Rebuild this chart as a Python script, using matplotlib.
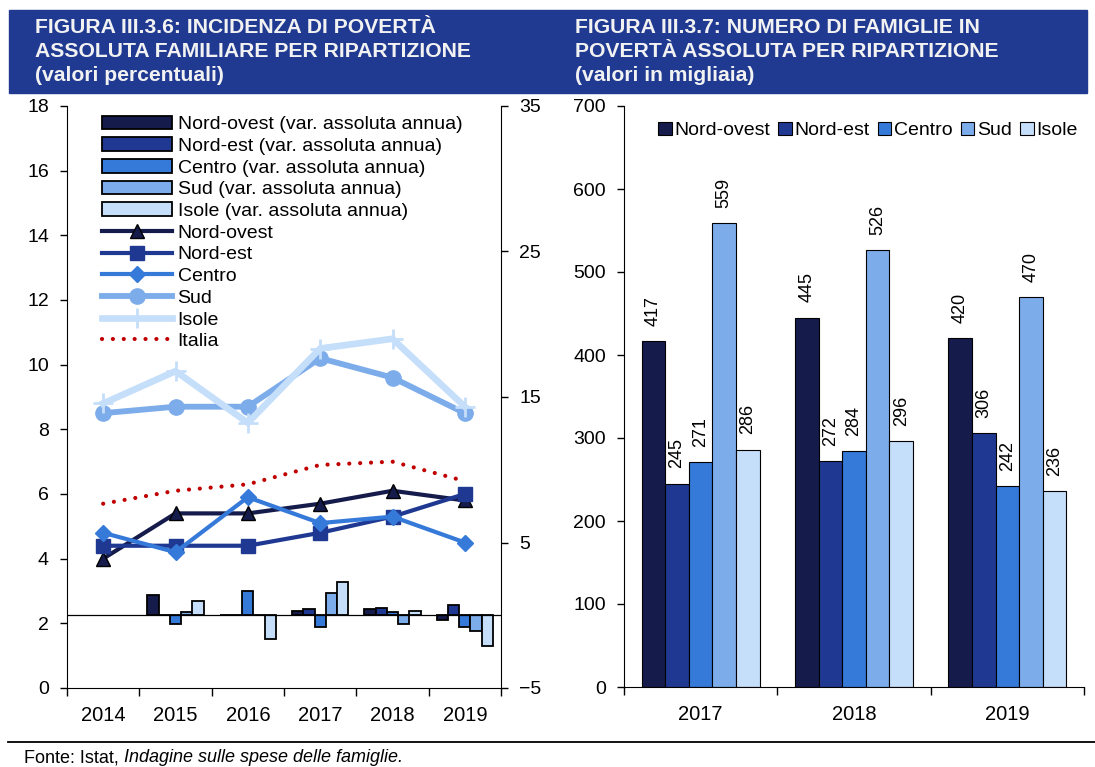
import matplotlib.pyplot as plt
from matplotlib.patches import Patch, Rectangle
from matplotlib.lines import Line2D
import numpy as np

plt.rcParams['font.family'] = ['Liberation Sans', 'DejaVu Sans']

# --- data: figura III.3.6 (incidenza %, linee) ---
years = ['2014', '2015', '2016', '2017', '2018', '2019']
nord_ovest = [4.0, 5.4, 5.4, 5.7, 6.1, 5.8]
nord_est = [4.4, 4.4, 4.4, 4.8, 5.3, 6.0]
centro = [4.8, 4.2, 5.9, 5.1, 5.3, 4.5]
sud = [8.5, 8.7, 8.7, 10.2, 9.6, 8.5]
isole = [8.8, 9.8, 8.2, 10.5, 10.8, 8.7]
italia = [5.7, 6.1, 6.3, 6.9, 7.0, 6.4]

# variazione assoluta annua (asse destro), nessun dato per il 2014
var_nord_ovest = [np.nan, 1.4, 0.0, 0.3, 0.4, -0.3]
var_nord_est = [np.nan, 0.0, 0.0, 0.4, 0.5, 0.7]
var_centro = [np.nan, -0.6, 1.7, -0.8, 0.2, -0.8]
var_sud = [np.nan, 0.2, 0.0, 1.5, -0.6, -1.1]
var_isole = [np.nan, 1.0, -1.6, 2.3, 0.3, -2.1]

# --- data: figura III.3.7 (migliaia di famiglie) ---
years_b = ['2017', '2018', '2019']
fam_nord_ovest = [417, 445, 420]
fam_nord_est = [245, 272, 306]
fam_centro = [271, 284, 242]
fam_sud = [559, 526, 470]
fam_isole = [286, 296, 236]

areas = ['Nord-ovest', 'Nord-est', 'Centro', 'Sud', 'Isole']
colors = ['#151C4C', '#1F3993', '#3579D9', '#7DACEA', '#C5DEFA']
header_blue = '#203A92'

W, H = 1095, 767
fig = plt.figure(figsize=(W / 100, H / 100), dpi=100)


def box(x0, y0, x1, y1):
    # pixel box (top-left origin) -> figure fraction
    return [x0 / W, 1 - y1 / H, (x1 - x0) / W, (y1 - y0) / H]


# headers
fig.patches.append(Rectangle((9 / W, 1 - 93 / H), (1087 - 9) / W, 83 / H,
                             transform=fig.transFigure, color=header_blue, zorder=0))
hfont = dict(color='#F2F2F2', fontsize=15.2, fontweight='bold', va='top', ha='left',
             linespacing=1.34)
fig.text(35 / W, 1 - 18 / H, 'FIGURA III.3.6: INCIDENZA DI POVERTÀ\nASSOLUTA FAMILIARE PER RIPARTIZIONE\n(valori percentuali)', **hfont)
fig.text(575 / W, 1 - 18 / H, 'FIGURA III.3.7: NUMERO DI FAMIGLIE IN\nPOVERTÀ ASSOLUTA PER RIPARTIZIONE\n(valori in migliaia)', **hfont)

# ---------------- left chart ----------------
ax = fig.add_axes(box(67, 106, 501, 688))
ax2 = ax.twinx()
x = np.arange(len(years))
w = 0.156
variations = [var_nord_ovest, var_nord_est, var_centro, var_sud, var_isole]
for i, (vals, c) in enumerate(zip(variations, colors)):
    ax2.bar(x + (i - 2) * w, vals, w, color=c, edgecolor='black', linewidth=1.3)
ax2.axhline(0, color='black', lw=0.9)
ax2.set_ylim(-5, 35)
ax2.set_yticks([-5, 5, 15, 25, 35])

ax.set_zorder(ax2.get_zorder() + 1)
ax.patch.set_visible(False)
ax.plot(x, nord_ovest, color=colors[0], lw=3, marker='^', ms=10, mfc=colors[0], mec='black', mew=1)
ax.plot(x, nord_est, color=colors[1], lw=3, marker='s', ms=10, mfc=colors[1], mec=colors[1])
ax.plot(x, centro, color=colors[2], lw=3, marker='D', ms=8, mfc=colors[2], mec=colors[2])
ax.plot(x, sud, color=colors[3], lw=4.2, marker='o', ms=11, mfc=colors[3], mec=colors[3])
ax.plot(x, isole, color=colors[4], lw=4.8, marker='+', ms=14, mew=2, mec=colors[4])
ax.plot(x, italia, color='#C00000', lw=3, linestyle=(0, (0.01, 2.6)), dash_capstyle='round')
ax.set_ylim(0, 18)
ax.set_yticks(range(0, 19, 2))
ax.set_xlim(-0.5, len(years) - 0.5)
ax.set_xticks(np.arange(-0.5, len(years)), [''] * (len(years) + 1))
ax.set_xticks(x, years, minor=True)
ax.tick_params(axis='x', which='major', length=6, width=1, direction='out')
ax.tick_params(axis='x', which='minor', length=0, pad=13, labelsize=14.5)
for a in (ax, ax2):
    a.tick_params(axis='y', length=5, width=1, labelsize=14, pad=8)
    for s in a.spines.values():
        s.set_visible(False)
ax.spines['left'].set_visible(True)
ax.spines['bottom'].set_visible(True)
ax2.spines['right'].set_visible(True)

handles = [Patch(facecolor=c, edgecolor='black', linewidth=1.3) for c in colors]
labels = [a + ' (var. assoluta annua)' for a in areas]
handles += [
    Line2D([], [], color=colors[0], lw=3, marker='^', ms=10, mfc=colors[0], mec='black'),
    Line2D([], [], color=colors[1], lw=3, marker='s', ms=10, mfc=colors[1], mec=colors[1]),
    Line2D([], [], color=colors[2], lw=3, marker='D', ms=8, mfc=colors[2], mec=colors[2]),
    Line2D([], [], color=colors[3], lw=4.2, marker='o', ms=11, mfc=colors[3], mec=colors[3]),
    Line2D([], [], color=colors[4], lw=4.8, marker='+', ms=14, mew=2, mec=colors[4]),
    Line2D([], [], color='#C00000', lw=3, linestyle=(0, (0.01, 2.6)), dash_capstyle='round'),
]
labels += areas + ['Italia']
ax.legend(handles, labels, loc='upper left', bbox_to_anchor=(92 / W, 1 - 106 / H),
          bbox_transform=fig.transFigure, frameon=False, fontsize=14,
          handlelength=3.6, handletextpad=0.3, labelspacing=0.21, borderpad=0)

# ---------------- right chart ----------------
bx = fig.add_axes(box(624, 106, 1084, 687))
xb = np.arange(len(years_b))
wb = 0.154
families = [fam_nord_ovest, fam_nord_est, fam_centro, fam_sud, fam_isole]
for i, (vals, c, name) in enumerate(zip(families, colors, areas)):
    bars = bx.bar(xb + (i - 2) * wb, vals, wb, color=c, edgecolor='black', linewidth=0.8, label=name)
    for b, v in zip(bars, vals):
        bx.annotate(str(v), (b.get_x() + b.get_width() / 2, v), xytext=(0, 11),
                    textcoords='offset points', rotation=90, ha='center', va='bottom', fontsize=13)
bx.set_ylim(0, 700)
bx.set_yticks(range(0, 701, 100))
bx.set_xlim(-0.5, len(years_b) - 0.5)
bx.set_xticks(np.arange(-0.5, len(years_b)), [''] * (len(years_b) + 1))
bx.set_xticks(xb, years_b, minor=True)
bx.tick_params(axis='x', which='major', length=6, width=1, direction='out')
bx.tick_params(axis='x', which='minor', length=0, pad=13, labelsize=14.5)
bx.tick_params(axis='y', length=5, width=1, labelsize=14, pad=8)
for s in ['top', 'right']:
    bx.spines[s].set_visible(False)
bx.legend(loc='upper center', bbox_to_anchor=(868 / W, 1 - 112 / H), bbox_transform=fig.transFigure,
          ncol=5, frameon=False, fontsize=14, handlelength=0.7, handleheight=0.7,
          handletextpad=0.15, columnspacing=0.4, borderpad=0)

# footer
fig.add_artist(Line2D([8 / W, 1], [1 - 742 / H] * 2, transform=fig.transFigure, color='black', lw=1.3))
t1 = fig.text(24 / W, 1 - 758 / H, 'Fonte: Istat, ', fontsize=13, va='center', ha='left')
fig.canvas.draw()
x_end = t1.get_window_extent().x1
fig.text(x_end / W, 1 - 758 / H, 'Indagine sulle spese delle famiglie.', fontsize=13, va='center',
         ha='left', style='italic')

fig.savefig('out.png', dpi=100)
